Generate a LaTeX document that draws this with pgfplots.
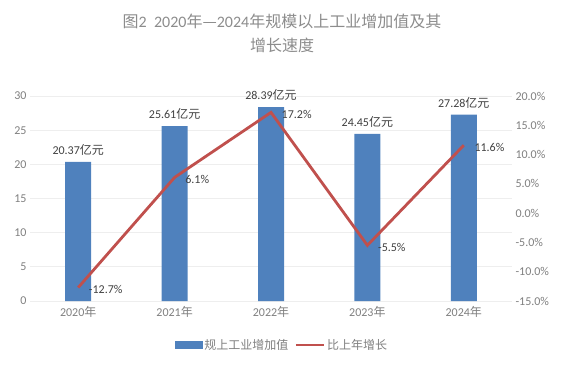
\documentclass[border=0pt]{standalone}
\usepackage{pgfplots}
\pgfplotsset{compat=1.18}
\usepackage{fontspec}
\setmainfont{Carlito}
\newfontfamily\cjk{Noto Sans CJK SC}
\definecolor{barblue}{HTML}{4F81BD}
\definecolor{linered}{HTML}{C0504D}
\definecolor{tickgray}{HTML}{7F7F7F}
\definecolor{titlegray}{HTML}{8C8C8C}
\definecolor{gridgray}{HTML}{EEEEEE}
\definecolor{labelgray}{HTML}{404040}
\begin{document}
\begin{tikzpicture}
\begin{axis}[
  at={(0,0)}, anchor=south west,
  scale only axis, width=482pt, height=205pt,
  xmin=-0.5, xmax=4.5, ymin=0, ymax=30,
  ytick={0,5,...,30},
  xtick={0,1,2,3,4},
  xticklabels={2020{\cjk 年},2021{\cjk 年},2022{\cjk 年},2023{\cjk 年},2024{\cjk 年}},
  xticklabel style={yshift=-2pt},
  axis line style={draw=none},
  major tick length=0pt,
  ymajorgrids, grid style={gridgray, line width=0.8pt},
  tick label style={font=\fontsize{12}{14}\selectfont, text=tickgray},
  /pgf/number format/assume math mode=true,
  ybar, bar width=26pt,
  clip=false,
  point meta=explicit symbolic,
  nodes near coords={\pgfplotspointmeta{\cjk 亿元}},
  nodes near coords style={font=\fontsize{12}{14}\selectfont, text=labelgray, anchor=south, yshift=3pt},
]
\addplot[fill=barblue, draw=none] coordinates {(0,20.37) [20.37] (1,25.61) [25.61] (2,28.39) [28.39] (3,24.45) [24.45] (4,27.28) [27.28]};
\end{axis}
\begin{axis}[
  at={(0,0)}, anchor=south west,
  scale only axis, width=482pt, height=205pt,
  xmin=-0.5, xmax=4.5, ymin=-15, ymax=20,
  ytick={-15,-10,...,20},
  yticklabels={-15.0\%,-10.0\%,-5.0\%,0.0\%,5.0\%,10.0\%,15.0\%,20.0\%},
  axis y line*=right, axis x line=none,
  axis line style={draw=none},
  major tick length=0pt,
  xtick=\empty,
  tick label style={font=\fontsize{12}{14}\selectfont, text=tickgray},
  clip=false,
  legend style={at={(0.523,-0.215)}, anchor=center, draw=none, fill=none,
    legend columns=2, font=\fontsize{12}{14}\selectfont, text=tickgray,
    /tikz/every even column/.append style={column sep=4pt}},
]
\addlegendimage{legend image code/.code={\fill[barblue] (0pt,-3.5pt) rectangle (27pt,3.5pt);}}
\addlegendentry{{\cjk 规上工业增加值}}
\addplot[linered, line width=2.8pt, mark=none,
  point meta=explicit symbolic,
  nodes near coords={\pgfplotspointmeta},
  nodes near coords style={font=\fontsize{12}{14}\selectfont, text=labelgray, anchor=west, xshift=6pt, yshift=-2pt},
  legend image code/.code={\draw[linered, line width=2.8pt] (0pt,0pt) -- (28pt,0pt);}]
  coordinates {(0,-12.7) [-12.7\%] (1,6.1) [6.1\%] (2,17.2) [17.2\%] (3,-5.5) [-5.5\%] (4,11.6) [11.6\%]};
\addlegendentry{{\cjk 比上年增长}}
\end{axis}
\node[align=center, font=\fontsize{16}{24}\selectfont, text=titlegray] at (252pt,268pt)
  {{\cjk 图}2\ \ 2020{\cjk 年—}2024{\cjk 年规模以上工业增加值及其}\\{\cjk 增长速度}};
\pgfresetboundingbox
\useasboundingbox (-30pt,-63pt) rectangle (534pt,301pt);
\end{tikzpicture}
\end{document}
